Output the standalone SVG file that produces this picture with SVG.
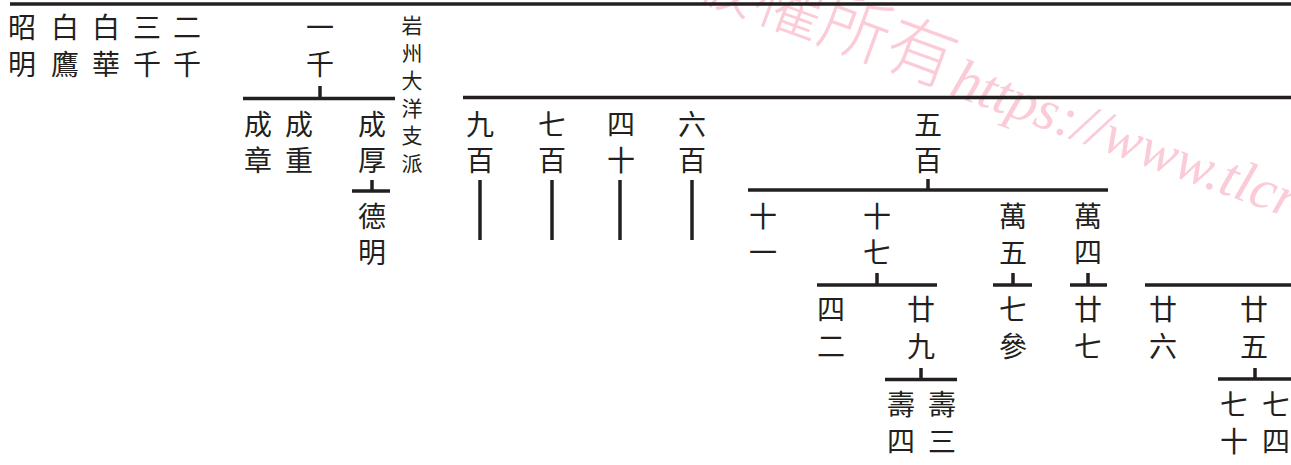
<svg xmlns="http://www.w3.org/2000/svg" width="1291" height="465" viewBox="0 0 1291 465">
<style>
.n{font-family:"Noto Sans CJK TC","Noto Sans CJK SC",sans-serif;font-size:28px;fill:#231f20;text-anchor:middle;dominant-baseline:central}
.s{font-family:"Noto Sans CJK TC","Noto Sans CJK SC",sans-serif;font-size:21px;fill:#231f20;text-anchor:middle;dominant-baseline:central}
.c line{stroke:#231f20;stroke-width:3.5}
.wm{fill:#fbccd7}
</style>
<rect width="1291" height="465" fill="#fff"/>
<g id="watermark">
<text class="wm" transform="translate(946,88) rotate(20)" text-anchor="end" font-family="Noto Sans CJK TC, sans-serif" font-weight="300" font-size="70">版權所有</text>
<text class="wm" transform="translate(948,94) rotate(20)" font-family="Liberation Serif, serif" font-style="italic" font-size="57">https://www.tlcr</text>
</g>
<g id="connectors" class="c">
<line x1="10" y1="4" x2="1291" y2="4"/>
<line x1="320" y1="86" x2="320" y2="98.5"/>
<line x1="243" y1="98.5" x2="395" y2="98.5"/>
<line x1="372" y1="180" x2="372" y2="191"/>
<line x1="352" y1="191" x2="390" y2="191"/>
<line x1="463" y1="97.5" x2="1291" y2="97.5"/>
<line x1="480" y1="180" x2="480" y2="240"/>
<line x1="552" y1="180" x2="552" y2="240"/>
<line x1="620" y1="180" x2="620" y2="240"/>
<line x1="692" y1="180" x2="692" y2="240"/>
<line x1="928" y1="179" x2="928" y2="190"/>
<line x1="748" y1="190" x2="1108" y2="190"/>
<line x1="877" y1="273" x2="877" y2="285"/>
<line x1="817" y1="285" x2="937" y2="285"/>
<line x1="1013" y1="273" x2="1013" y2="285"/>
<line x1="993" y1="285" x2="1032" y2="285"/>
<line x1="1088" y1="273" x2="1088" y2="285"/>
<line x1="1070" y1="285" x2="1107" y2="285"/>
<line x1="1145" y1="285" x2="1291" y2="285"/>
<line x1="921" y1="368" x2="921" y2="379.5"/>
<line x1="885" y1="379.5" x2="957" y2="379.5"/>
<line x1="1255" y1="368" x2="1255" y2="379"/>
<line x1="1218" y1="379" x2="1291" y2="379"/>
</g>
<g id="n-zhaoming"><text class="n"><tspan x="22" y="26">昭</tspan><tspan x="22" y="63">明</tspan></text></g>
<g id="n-baiying"><text class="n"><tspan x="65" y="26">白</tspan><tspan x="65" y="63">鷹</tspan></text></g>
<g id="n-baihua"><text class="n"><tspan x="106" y="26">白</tspan><tspan x="106" y="63">華</tspan></text></g>
<g id="n-sanqian"><text class="n"><tspan x="147" y="26">三</tspan><tspan x="147" y="63">千</tspan></text></g>
<g id="n-erqian"><text class="n"><tspan x="187" y="26">二</tspan><tspan x="187" y="63">千</tspan></text></g>
<g id="n-yiqian"><text class="n"><tspan x="320" y="26">一</tspan><tspan x="320" y="63">千</tspan></text></g>
<g id="n-branch"><text class="s"><tspan x="412" y="24">岩</tspan><tspan x="412" y="51.5">州</tspan><tspan x="412" y="79">大</tspan><tspan x="412" y="106.5">洋</tspan><tspan x="412" y="134">支</tspan><tspan x="412" y="161.5">派</tspan></text></g>
<g id="n-chengzhang"><text class="n"><tspan x="258" y="123">成</tspan><tspan x="258" y="159">章</tspan></text></g>
<g id="n-chengzhong"><text class="n"><tspan x="299" y="123">成</tspan><tspan x="299" y="159">重</tspan></text></g>
<g id="n-chenghou"><text class="n"><tspan x="372" y="123">成</tspan><tspan x="372" y="159">厚</tspan></text></g>
<g id="n-deming"><text class="n"><tspan x="372" y="215">德</tspan><tspan x="372" y="251">明</tspan></text></g>
<g id="n-jiubai"><text class="n"><tspan x="480" y="123">九</tspan><tspan x="480" y="159">百</tspan></text></g>
<g id="n-qibai"><text class="n"><tspan x="552" y="123">七</tspan><tspan x="552" y="159">百</tspan></text></g>
<g id="n-sishi"><text class="n"><tspan x="621" y="123">四</tspan><tspan x="621" y="159">十</tspan></text></g>
<g id="n-liubai"><text class="n"><tspan x="692" y="123">六</tspan><tspan x="692" y="159">百</tspan></text></g>
<g id="n-wubai"><text class="n"><tspan x="928" y="123">五</tspan><tspan x="928" y="159">百</tspan></text></g>
<g id="n-shiyi"><text class="n"><tspan x="763" y="215">十</tspan><tspan x="763" y="251">一</tspan></text></g>
<g id="n-shiqi"><text class="n"><tspan x="877" y="215">十</tspan><tspan x="877" y="251">七</tspan></text></g>
<g id="n-wanwu"><text class="n"><tspan x="1013" y="215">萬</tspan><tspan x="1013" y="251">五</tspan></text></g>
<g id="n-wansi"><text class="n"><tspan x="1088" y="215">萬</tspan><tspan x="1088" y="251">四</tspan></text></g>
<g id="n-sier"><text class="n"><tspan x="831" y="308">四</tspan><tspan x="831" y="345">二</tspan></text></g>
<g id="n-nianjiu"><text class="n"><tspan x="921" y="308">廿</tspan><tspan x="921" y="345">九</tspan></text></g>
<g id="n-qican"><text class="n"><tspan x="1013" y="308">七</tspan><tspan x="1013" y="345">參</tspan></text></g>
<g id="n-nianqi"><text class="n"><tspan x="1088" y="308">廿</tspan><tspan x="1088" y="345">七</tspan></text></g>
<g id="n-nianliu"><text class="n"><tspan x="1163" y="308">廿</tspan><tspan x="1163" y="345">六</tspan></text></g>
<g id="n-nianwu"><text class="n"><tspan x="1254" y="308">廿</tspan><tspan x="1254" y="345">五</tspan></text></g>
<g id="n-shousi"><text class="n"><tspan x="901" y="403">壽</tspan><tspan x="901" y="440">四</tspan></text></g>
<g id="n-shousan"><text class="n"><tspan x="942" y="403">壽</tspan><tspan x="942" y="440">三</tspan></text></g>
<g id="n-qishi"><text class="n"><tspan x="1234" y="403">七</tspan><tspan x="1234" y="440">十</tspan></text></g>
<g id="n-qisi"><text class="n"><tspan x="1276" y="403">七</tspan><tspan x="1276" y="440">四</tspan></text></g>
</svg>
